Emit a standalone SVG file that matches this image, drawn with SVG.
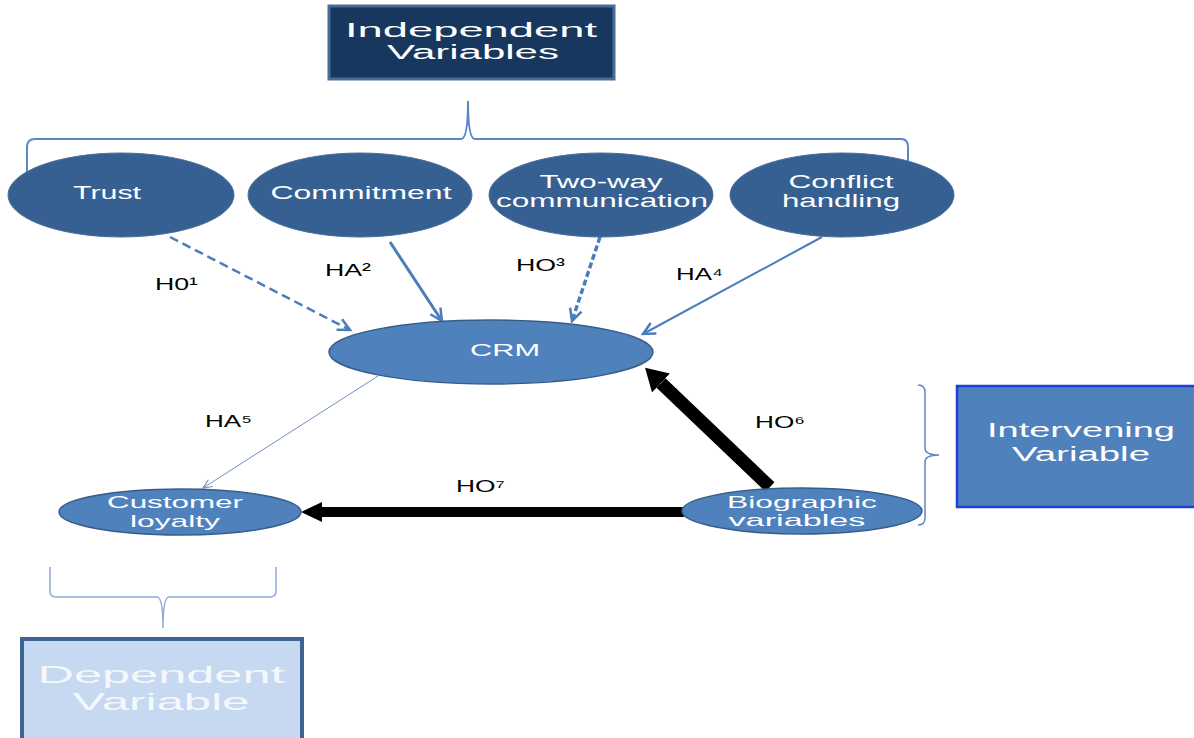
<svg xmlns="http://www.w3.org/2000/svg" width="1194" height="738" viewBox="0 0 1194 738">
<defs>
<style>
.t{font-family:"Liberation Sans",Arial,sans-serif;fill:#fff;}
.lab{font-family:"Liberation Sans",Arial,sans-serif;fill:#000;font-size:17px;}
.top{fill:#376092;stroke:#4a6f9e;stroke-width:1;}
.mid{fill:#4f81bd;stroke:#385d8a;stroke-width:1.5;}
.blue{stroke:#4a7ebb;fill:none;}
.brace{fill:none;stroke:#5b87c5;}
</style>
<marker id="open" markerUnits="userSpaceOnUse" markerWidth="16" markerHeight="16" refX="13" refY="7" orient="auto" viewBox="0 0 16 14">
<path d="M1,1 L13,7 L1,13" fill="none" stroke="#4a7ebb" stroke-width="2.5"/>
</marker>
<marker id="openthin" markerUnits="userSpaceOnUse" markerWidth="12" markerHeight="12" refX="10" refY="5" orient="auto" viewBox="0 0 12 10">
<path d="M1,1 L10,5 L1,9" fill="none" stroke="#6f8fc0" stroke-width="1.2"/>
</marker>
<marker id="bigB" markerUnits="userSpaceOnUse" markerWidth="24" markerHeight="28" refX="0" refY="14" orient="auto" viewBox="0 0 24 28">
<path d="M0,1 L22,14 L0,27 Z" fill="#000"/>
</marker>
<marker id="bigH" markerUnits="userSpaceOnUse" markerWidth="22" markerHeight="24" refX="0" refY="12" orient="auto" viewBox="0 0 22 24">
<path d="M0,2 L21,12 L0,22 Z" fill="#000"/>
</marker>
</defs>
<rect width="1194" height="738" fill="#fff"/>

<g id="independent-variables">
<rect x="329" y="6" width="285" height="73" fill="#17375e" stroke="#4a6a97" stroke-width="3"/>
<text class="t" x="471" y="37" font-size="20" text-anchor="middle" textLength="252" lengthAdjust="spacingAndGlyphs">Independent</text>
<text class="t" x="473" y="59" font-size="20" text-anchor="middle" textLength="172" lengthAdjust="spacingAndGlyphs">Variables</text>
</g>

<g id="braces">
<path class="brace" stroke-width="2" d="M27,174 L27,147 Q27,139 35,139 L461,139 Q468,139 468,101 Q468,139 475,139 L901,139 Q908,139 908,147 L908,175"/>
<path class="brace" stroke-width="1.5" d="M50,567 L50,591 Q50,597 56,597 L157,597 Q163,597 163,628 Q163,597 169,597 L270,597 Q276,597 276,591 L276,567" style="stroke:#8eaad8"/>
<path class="brace" stroke-width="1.5" d="M918,385 Q925,385 925,392 L925,448 Q925,455 939,455 Q925,455 925,462 L925,518 Q925,525 918,525"/>
</g>

<g id="connectors">
<line class="blue" x1="170" y1="237" x2="350" y2="330" stroke-width="2.5" stroke-dasharray="9,5" marker-end="url(#open)"/>
<line class="blue" x1="390" y1="242" x2="442" y2="321" stroke-width="3" marker-end="url(#open)"/>
<line class="blue" x1="600" y1="237" x2="572" y2="321" stroke-width="3.5" stroke-dasharray="6,3" marker-end="url(#open)"/>
<line class="blue" x1="822" y1="237" x2="643" y2="334" stroke-width="2" marker-end="url(#open)"/>
<line x1="378" y1="376" x2="203" y2="488" stroke="#6f8fc0" stroke-width="1" marker-end="url(#openthin)"/>
<line x1="770" y1="487" x2="661" y2="383" stroke="#000" stroke-width="13" marker-end="url(#bigB)"/>
<line x1="684" y1="512" x2="322" y2="512" stroke="#000" stroke-width="10" marker-end="url(#bigH)"/>
</g>

<g id="trust">
<ellipse class="top" cx="121" cy="195" rx="113" ry="42"/>
<text class="t" x="107" y="199" font-size="18" text-anchor="middle" textLength="68" lengthAdjust="spacingAndGlyphs">Trust</text>
</g>
<g id="commitment">
<ellipse class="top" cx="360" cy="195" rx="112" ry="42"/>
<text class="t" x="361" y="199" font-size="18" text-anchor="middle" textLength="181" lengthAdjust="spacingAndGlyphs">Commitment</text>
</g>
<g id="two-way-communication">
<ellipse class="top" cx="601" cy="195" rx="112" ry="42"/>
<text class="t" x="601" y="188" font-size="18" text-anchor="middle" textLength="123" lengthAdjust="spacingAndGlyphs">Two-way</text>
<text class="t" x="602" y="207" font-size="18" text-anchor="middle" textLength="212" lengthAdjust="spacingAndGlyphs">communication</text>
</g>
<g id="conflict-handling">
<ellipse class="top" cx="842" cy="195" rx="112" ry="42"/>
<text class="t" x="841" y="188" font-size="18" text-anchor="middle" textLength="105" lengthAdjust="spacingAndGlyphs">Conflict</text>
<text class="t" x="841" y="207" font-size="18" text-anchor="middle" textLength="118" lengthAdjust="spacingAndGlyphs">handling</text>
</g>

<g id="crm">
<ellipse class="mid" cx="491" cy="352" rx="162" ry="32"/>
<text class="t" x="505" y="356" font-size="17" text-anchor="middle" textLength="70" lengthAdjust="spacingAndGlyphs">CRM</text>
</g>
<g id="customer-loyalty">
<ellipse class="mid" cx="180" cy="512" rx="121" ry="23"/>
<text class="t" x="175" y="508" font-size="17" text-anchor="middle" textLength="136" lengthAdjust="spacingAndGlyphs">Customer</text>
<text class="t" x="175" y="527" font-size="17" text-anchor="middle" textLength="90" lengthAdjust="spacingAndGlyphs">loyalty</text>
</g>
<g id="biographic-variables">
<ellipse class="mid" cx="802" cy="511" rx="120" ry="23"/>
<text class="t" x="802" y="508" font-size="17" text-anchor="middle" textLength="150" lengthAdjust="spacingAndGlyphs">Biographic</text>
<text class="t" x="797" y="526" font-size="17" text-anchor="middle" textLength="137" lengthAdjust="spacingAndGlyphs">variables</text>
</g>

<g id="intervening-variable">
<rect x="957" y="386" width="240" height="121" fill="#4f81bd" stroke="#1f3fd6" stroke-width="2.5"/>
<text class="t" x="1081" y="437" font-size="20" text-anchor="middle" textLength="188" lengthAdjust="spacingAndGlyphs">Intervening</text>
<text class="t" x="1081" y="461" font-size="20" text-anchor="middle" textLength="138" lengthAdjust="spacingAndGlyphs">Variable</text>
</g>

<g id="dependent-variable">
<rect x="22" y="639" width="280" height="104" fill="#c6d9f1" stroke="#3f6494" stroke-width="4"/>
<text class="t" x="161" y="683" font-size="24" text-anchor="middle" textLength="247" lengthAdjust="spacingAndGlyphs" style="fill:#f4f8fc">Dependent</text>
<text class="t" x="161" y="710" font-size="24" text-anchor="middle" textLength="177" lengthAdjust="spacingAndGlyphs" style="fill:#f4f8fc">Variable</text>
</g>

<g id="labels">
<text class="lab" x="155" y="290" textLength="43" lengthAdjust="spacingAndGlyphs">H0¹</text>
<text class="lab" x="325" y="276" textLength="46" lengthAdjust="spacingAndGlyphs">HA²</text>
<text class="lab" x="516" y="271" textLength="49" lengthAdjust="spacingAndGlyphs">HO³</text>
<text class="lab" x="676" y="280" textLength="47" lengthAdjust="spacingAndGlyphs">HA⁴</text>
<text class="lab" x="205" y="427" textLength="47" lengthAdjust="spacingAndGlyphs">HA⁵</text>
<text class="lab" x="755" y="428" textLength="50" lengthAdjust="spacingAndGlyphs">HO⁶</text>
<text class="lab" x="456" y="492" textLength="49" lengthAdjust="spacingAndGlyphs">HO⁷</text>
</g>
</svg>
